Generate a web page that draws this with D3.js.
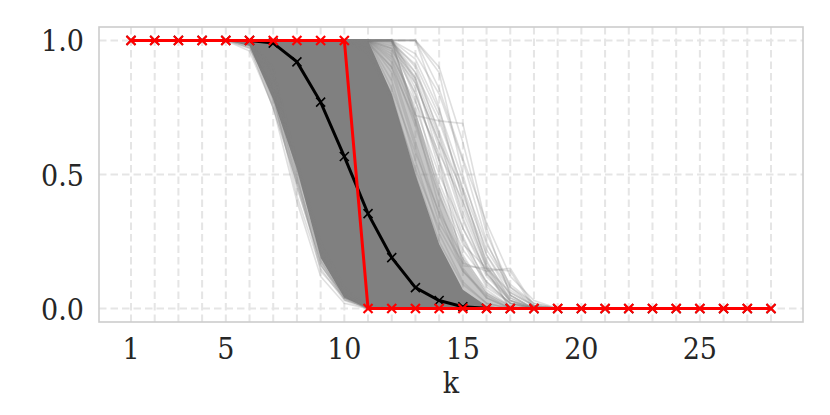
<!DOCTYPE html>
<html><head><meta charset="utf-8">
<script src="https://cdn.jsdelivr.net/npm/d3@7"></script>
<style>body{margin:0;background:#fff}</style>
</head><body>
<svg id="c" width="830" height="415"></svg>
<script>
// ---- data ----
const kValues = d3.range(1, 29);                       // k = 1..28
const xTickLabels = [1, 5, 10, 15, 20, 25];
const yTickLabels = [0.0, 0.5, 1.0];
const meanValues = [1,1,1,1,1,1,0.99,0.92,0.77,0.567,0.354,0.19,0.078,0.03,0.007,0.001,0,0,0,0,0,0,0,0,0,0,0,0];
const stepValues = [1,1,1,1,1,1,1,1,1,1,0,0,0,0,0,0,0,0,0,0,0,0,0,0,0,0,0,0];
// gray bundle: k = 5..19 (1 before, 0 after)
const kGray = d3.range(5, 20);
const coreLow  = [1,0.98,0.78,0.52,0.19,0.04,0,0,0,0,0,0,0,0,0];
const coreHigh = [1,1,1,1,1,1,1,0.80,0.50,0.24,0.07,0.01,0,0,0];
const midLow   = [1,0.97,0.74,0.46,0.16,0.03,0,0,0,0,0,0,0,0,0];
const midHigh  = [1,1,1,1,1,1,1,1,0.74,0.44,0.19,0.06,0.01,0,0];
const grayCurves = [
  [1,0.98,0.80,0.42,0.15,0.03,0,0,0,0,0,0,0,0,0],
  [1,0.99,0.83,0.48,0.20,0.05,0,0,0,0,0,0,0,0,0],
  [1,1,0.86,0.52,0.22,0.06,0.01,0,0,0,0,0,0,0,0],
  [1,0.99,0.78,0.45,0.18,0.04,0,0,0,0,0,0,0,0,0],
  [1,1,0.90,0.55,0.25,0.08,0.01,0,0,0,0,0,0,0,0],
  [1,1,0.88,0.50,0.14,0.04,0,0,0,0,0,0,0,0,0],
  [1,0.97,0.82,0.46,0.16,0.05,0.01,0,0,0,0,0,0,0,0],
  [1,0.96,0.75,0.40,0.12,0.02,0,0,0,0,0,0,0,0,0],
  [1,1,1,1,1,1,1,0.85,0.55,0.28,0.10,0.02,0,0,0],
  [1,1,1,1,1,1,1,0.90,0.62,0.35,0.14,0.04,0,0,0],
  [1,1,1,1,1,1,1,1,0.70,0.38,0.15,0.04,0,0,0],
  [1,1,1,1,1,1,1,1,0.78,0.45,0.20,0.06,0.01,0,0],
  [1,1,1,1,1,1,1,1,0.82,0.52,0.25,0.08,0.02,0,0],
  [1,1,1,1,1,1,1,1,1,0.88,0.50,0.20,0.05,0,0],
  [1,1,1,1,1,1,1,1,1,0.75,0.40,0.15,0.03,0,0],
  [1,1,1,1,1,1,1,1,0.72,0.70,0.69,0.30,0.05,0,0],
  [1,1,1,1,1,1,1,1,0.80,0.55,0.16,0.15,0,0,0],
  [1,1,1,1,1,1,1,0.95,0.75,0.50,0.30,0.12,0.03,0,0],
  [1,1,1,1,1,1,1,0.92,0.68,0.42,0.22,0.10,0.02,0,0],
  [1,1,1,1,1,1,1,1,0.90,0.65,0.38,0.16,0.04,0,0],
  [1,1,1,1,1,1,1,0.88,0.60,0.32,0.17,0.14,0,0,0],
  [1,1,1,1,1,1,0.97,0.80,0.50,0.25,0.09,0.02,0,0,0],
  [1,1,1,1,1,1,0.95,0.78,0.52,0.30,0.14,0.05,0,0,0],
  [1,1,1,1,1,1,1,0.93,0.72,0.47,0.26,0.10,0.02,0,0],
  [1,1,1,1,1,1,1,1,0.85,0.60,0.33,0.13,0.03,0,0],
  [1,1,1,1,1,1,1,0.82,0.58,0.36,0.19,0.07,0.01,0,0],
  [1,1,1,1,1,1,1,0.97,0.80,0.55,0.27,0.09,0.02,0,0],
  [1,1,1,1,1,1,1,1,1,0.90,0.62,0.28,0.08,0.01,0],
  [1,1,1,1,1,1,1,0.96,0.84,0.62,0.36,0.15,0.06,0.01,0],
  [1,1,1,1,1,1,1,0.98,0.88,0.70,0.45,0.22,0.08,0.02,0],
  [1,1,1,1,1,1,0.99,0.90,0.70,0.45,0.24,0.15,0.14,0,0],
  [1,1,1,1,1,1,1,0.94,0.77,0.58,0.40,0.18,0.03,0,0],
  [1,1,1,1,1,1,1,1,0.88,0.66,0.42,0.20,0.07,0.01,0],
  [1,1,1,1,1,1,1,1,0.93,0.74,0.48,0.24,0.09,0.02,0],
  [1,1,1,1,1,1,1,1,0.86,0.56,0.30,0.14,0.15,0.01,0],
  [1,1,1,1,1,1,1,0.97,0.86,0.64,0.34,0.13,0.04,0,0],
  [1,1,1,1,1,1,1,1,0.95,0.80,0.55,0.25,0.06,0.01,0],
  [1,1,1,1,1,1,1,1,1,0.82,0.56,0.32,0.12,0.03,0],
  [1,1,1,1,1,1,1,0.99,0.91,0.72,0.44,0.17,0.05,0,0],
  [1,1,1,1,1,1,1,1,0.84,0.62,0.44,0.16,0.02,0,0]
];

// ---- layout ----
const svg = d3.select("#c");
const L = 99, R = 803, T = 27, B = 322;
const x = d3.scaleLinear().domain([-0.35, 29.35]).range([L, R]);
const y = d3.scaleLinear().domain([-0.05, 1.05]).range([B, T]);
const font = "'DejaVu Serif Condensed', 'DejaVu Serif', serif";

// grid
svg.append("g").selectAll("line").data(kValues).join("line")
  .attr("x1", d => x(d)).attr("x2", d => x(d)).attr("y1", T).attr("y2", B)
  .attr("stroke", "#e5e5e5").attr("stroke-width", 2).attr("stroke-dasharray", "7.5,4");
svg.append("g").selectAll("line").data(yTickLabels).join("line")
  .attr("x1", L).attr("x2", R).attr("y1", d => y(d)).attr("y2", d => y(d))
  .attr("stroke", "#e5e5e5").attr("stroke-width", 2).attr("stroke-dasharray", "7.5,4");

// gray bundle
const g = svg.append("g");
const band = (lo, hi) => kGray.map((k, i) => ({k, lo: lo[i], hi: hi[i]}));
const area = d3.area().x(d => x(d.k)).y0(d => y(d.lo)).y1(d => y(d.hi));
g.append("path").datum(band(midLow, midHigh)).attr("d", area)
  .attr("fill", "#808080").attr("fill-opacity", 0.45);
g.append("path").datum(band(coreLow, coreHigh)).attr("d", area)
  .attr("fill", "#808080");
const line = d3.line().x(d => x(d[0])).y(d => y(d[1]));
g.selectAll("path.gc").data(grayCurves).join("path").attr("class", "gc")
  .attr("d", c => line(kGray.map((k, i) => [k, c[i]])))
  .attr("fill", "none").attr("stroke", "#808080").attr("stroke-opacity", 0.25).attr("stroke-width", 1.6);

// mean line + step line
const pts = vals => kValues.map((k, i) => [k, vals[i]]);
function xMarks(vals, color, sw) {
  svg.append("g").selectAll("path").data(pts(vals)).join("path")
    .attr("d", d => { const cx = x(d[0]), cy = y(d[1]), s = 4.5;
      return `M${cx-s},${cy-s}L${cx+s},${cy+s}M${cx-s},${cy+s}L${cx+s},${cy-s}`; })
    .attr("stroke", color).attr("stroke-width", sw).attr("fill", "none");
}
svg.append("path").attr("d", line(pts(meanValues)))
  .attr("fill", "none").attr("stroke", "#000").attr("stroke-width", 3);
xMarks(meanValues, "#000", 1.6);
svg.append("path").attr("d", line(pts(stepValues)))
  .attr("fill", "none").attr("stroke", "#ff0000").attr("stroke-width", 3);
xMarks(stepValues, "#ff0000", 2.2);

// spines
svg.append("rect").attr("x", L).attr("y", T).attr("width", R - L).attr("height", B - T)
  .attr("fill", "none").attr("stroke", "#cccccc").attr("stroke-width", 1.6);

// tick labels
svg.append("g").selectAll("text").data(xTickLabels).join("text")
  .attr("x", d => x(d)).attr("y", 359).attr("text-anchor", "middle")
  .attr("font-family", font).attr("font-size", 30).attr("fill", "#262626").text(d => d);
svg.append("g").selectAll("text").data(yTickLabels).join("text")
  .attr("x", 84).attr("y", d => y(d) + 11).attr("text-anchor", "end")
  .attr("font-family", font).attr("font-size", 30).attr("fill", "#262626").text(d => d.toFixed(1));
svg.append("text").attr("x", (L + R) / 2).attr("y", 393).attr("text-anchor", "middle")
  .attr("font-family", font).attr("font-size", 30).attr("fill", "#262626").text("k");
</script>
</body></html>
